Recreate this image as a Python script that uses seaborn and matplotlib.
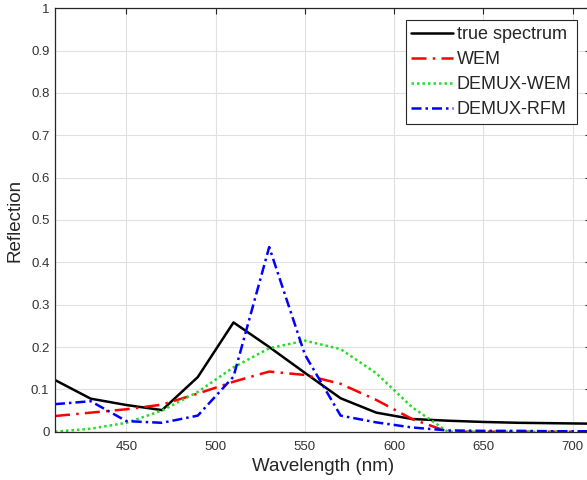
import numpy as np
import pandas as pd
import matplotlib
matplotlib.use('Agg')
import matplotlib.pyplot as plt
import seaborn as sns

# wavelengths (nm) and reflection values
wavelength = [410, 430, 450, 470, 490, 510, 530, 550, 570, 590, 610, 630, 650, 670, 690, 710]
true_spectrum = [0.122, 0.078, 0.063, 0.051, 0.129, 0.258, 0.200, 0.139, 0.079, 0.045, 0.030, 0.026, 0.023, 0.021, 0.020, 0.019]
wem = [0.037, 0.045, 0.053, 0.064, 0.090, 0.118, 0.142, 0.134, 0.113, 0.075, 0.030, 0.0, 0.0, 0.0, 0.0, 0.0]
demux_wem = [0.0, 0.007, 0.021, 0.050, 0.094, 0.152, 0.197, 0.215, 0.195, 0.138, 0.058, 0.0, 0.0, 0.0, 0.0, 0.0]
demux_rfm = [0.065, 0.072, 0.025, 0.021, 0.038, 0.130, 0.436, 0.182, 0.038, 0.022, 0.010, 0.003, 0.002, 0.002, 0.001, 0.001]

series = {
    'true spectrum': true_spectrum,
    'WEM': wem,
    'DEMUX-WEM': demux_wem,
    'DEMUX-RFM': demux_rfm,
}
colors = {'true spectrum': 'black', 'WEM': '#ff0000', 'DEMUX-WEM': '#22dd22', 'DEMUX-RFM': '#0000ff'}
dashes = {'true spectrum': None, 'WEM': (6, 2.5, 1, 2.5), 'DEMUX-WEM': (1, 1.2), 'DEMUX-RFM': (4, 1.6, 1, 1.6)}

sns.set_theme(style='whitegrid')
plt.rcParams['font.family'] = ['Liberation Sans', 'DejaVu Sans']

fig = plt.figure(figsize=(5.87, 4.8), dpi=100)
# axes right edge goes just past the image, like the cropped original
ax = fig.add_axes([55 / 587, 48.3 / 480, 535.5 / 587, 423.5 / 480])

for name, vals in series.items():
    sns.lineplot(x=wavelength, y=vals, color=colors[name], lw=1.8, ax=ax, label=name)
    if dashes[name] is not None:
        ax.lines[-1].set_dashes(dashes[name])

ax.set_xlim(410, 710)
ax.set_ylim(0, 1)
ax.set_xticks([450, 500, 550, 600, 650, 700])
yt = np.round(np.arange(0, 1.01, 0.1), 1)
ax.set_yticks(yt)
ax.set_yticklabels(['0' if v == 0 else ('1' if v == 1 else f'{v:g}') for v in yt])

ax.grid(True, color='#e0e0e0', lw=0.8)
for s in ax.spines.values():
    s.set_color('#262626')
    s.set_linewidth(0.9)
ax.tick_params(direction='in', length=4, width=0.8, color='#262626',
               labelsize=9.5, labelcolor='#333333', top=True, right=True)
ax.tick_params(axis='x', pad=7)
ax.tick_params(axis='y', pad=4)

ax.set_xlabel('Wavelength (nm)', fontsize=13.5, color='#262626', labelpad=3)
ax.set_ylabel('Reflection', fontsize=13.5, color='#262626', labelpad=5)

leg = ax.legend(loc='upper right', bbox_to_anchor=(0.9745, 0.971), fontsize=13,
                frameon=True, fancybox=False, framealpha=1, edgecolor='#262626',
                handlelength=2.3, handletextpad=0.2, borderpad=0.3, labelspacing=0.45,
                borderaxespad=0)
leg.get_frame().set_linewidth(0.8)

fig.savefig('out.png', dpi=100)
